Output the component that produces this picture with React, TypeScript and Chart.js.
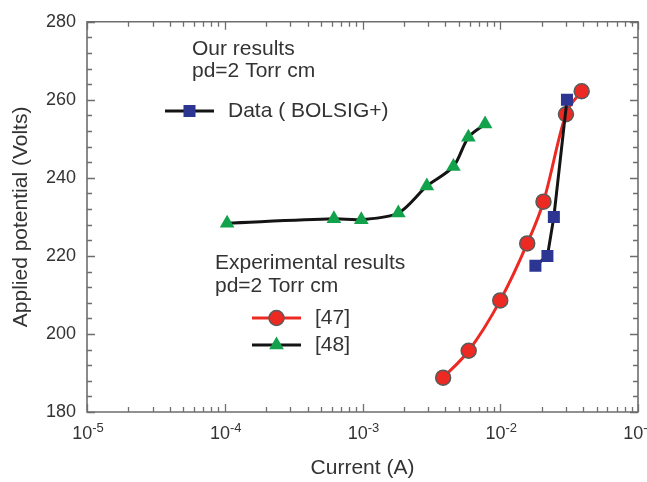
import React, { useEffect, useRef } from 'react';
import { Chart, registerables } from 'chart.js';
import { drawPoint } from 'chart.js/helpers';

Chart.register(...registerables);

// ---- data ----
const bolsigCurrent = [0.018, 0.022, 0.0245, 0.0305];
const bolsigVoltage = [217.5, 220.0, 230.0, 260.0];

const ref47Current = [0.00385, 0.0059, 0.0100, 0.0157, 0.0206, 0.0300, 0.0390];
const ref47Voltage = [188.8, 195.7, 208.6, 223.2, 233.9, 256.3, 262.2];

const ref48Current = [0.000104, 0.00062, 0.00098, 0.00182, 0.00293, 0.00457, 0.00587, 0.00776];
const ref48Voltage = [228.4, 229.5, 229.3, 231.0, 237.9, 242.9, 250.4, 253.8];

const xDecadeExponents = [-5, -4, -3, -2, -1];
const xTickBase = '10';
const xTickExponents = ['-5', '-4', '-3', '-2', '-1'];
const yMin = 180;
const yMax = 280;
const yMajorStep = 20;
const yMinorStep = 4;

const FONT = '"Liberation Sans", Arial, Helvetica, sans-serif';
const TEXT = '#333333';
const AXIS = '#6e6e6e';

const RED = '#ec2a23';
const GREEN = '#12a24c';
const BLUE = '#2d3592';
const BLACK = '#141414';

const toPoints = (xs: number[], ys: number[]) => xs.map((x, i) => ({ x, y: ys[i] }));

const framePlugin = {
  id: 'frameTicks',
  beforeDatasetsDraw(chart: any) {
    const { ctx, chartArea, scales } = chart;
    const { left, right, top, bottom } = chartArea;
    const x = scales.x;
    const y = scales.y;
    ctx.save();
    ctx.strokeStyle = AXIS;
    ctx.lineWidth = 1.6;
    ctx.beginPath();
    ctx.rect(left, top, right - left, bottom - top);
    ctx.stroke();
    ctx.lineWidth = 1.3;
    ctx.beginPath();
    for (const e of xDecadeExponents) {
      const maxS = e === xDecadeExponents[xDecadeExponents.length - 1] ? 1 : 9;
      for (let s = 1; s <= maxS; s++) {
        const px = Math.round(x.getPixelForValue(s * Math.pow(10, e))) + 0.5;
        const len = s === 1 ? 8 : 5;
        ctx.moveTo(px, bottom);
        ctx.lineTo(px, bottom - len);
        ctx.moveTo(px, top);
        ctx.lineTo(px, top + len);
      }
    }
    for (let v = yMin; v <= yMax; v += yMinorStep) {
      const py = Math.round(y.getPixelForValue(v)) + 0.5;
      const len = v % yMajorStep === 0 ? 8 : 5;
      ctx.moveTo(left, py);
      ctx.lineTo(left + len, py);
      ctx.moveTo(right, py);
      ctx.lineTo(right - len, py);
    }
    ctx.stroke();

    // x tick labels: base with raised exponent, centred on the decade ticks
    ctx.fillStyle = TEXT;
    ctx.textAlign = 'left';
    ctx.textBaseline = 'alphabetic';
    xDecadeExponents.forEach((e, i) => {
      const px = x.getPixelForValue(Math.pow(10, e));
      ctx.font = `18px ${FONT}`;
      const wb = ctx.measureText(xTickBase).width;
      ctx.font = `13px ${FONT}`;
      const we = ctx.measureText(xTickExponents[i]).width;
      const x0 = px - (wb + we) / 2 + 1;
      const base = bottom + 27;
      ctx.font = `18px ${FONT}`;
      ctx.fillText(xTickBase, x0, base);
      ctx.font = `13px ${FONT}`;
      ctx.fillText(xTickExponents[i], x0 + wb, base - 7);
    });
    ctx.restore();
  },
};

const legendPlugin = {
  id: 'annotLegend',
  afterDraw(chart: any) {
    const { ctx } = chart;
    const ds = chart.data.datasets;
    ctx.save();
    ctx.font = `21px ${FONT}`;
    ctx.fillStyle = TEXT;
    ctx.textAlign = 'left';
    ctx.textBaseline = 'middle';
    ctx.fillText('Our results', 192, 49);
    ctx.fillText('pd=2 Torr cm', 192, 71);
    ctx.fillText('Experimental results', 215, 263);
    ctx.fillText('pd=2 Torr cm', 215, 286);

    const item = (d: any, x0: number, x1: number, yc: number, label: string, tx: number) => {
      ctx.save();
      ctx.strokeStyle = d.borderColor;
      ctx.lineWidth = d.borderWidth;
      ctx.beginPath();
      ctx.moveTo(x0, yc);
      ctx.lineTo(x1, yc);
      ctx.stroke();
      ctx.fillStyle = d.pointBackgroundColor;
      ctx.strokeStyle = d.pointBorderColor;
      ctx.lineWidth = d.pointBorderWidth;
      drawPoint(ctx, { pointStyle: d.pointStyle, radius: d.pointRadius, rotation: 0, borderWidth: d.pointBorderWidth }, (x0 + x1) / 2, yc);
      ctx.restore();
      ctx.fillStyle = TEXT;
      ctx.fillText(label, tx, yc);
    };
    item(ds[0], 165, 214, 111, 'Data ( BOLSIG+)', 228);
    item(ds[1], 252, 301, 318, '[47]', 315);
    item(ds[2], 252, 301, 345, '[48]', 315);
    ctx.restore();
  },
};

export default function App() {
  const canvasRef = useRef<HTMLCanvasElement | null>(null);

  useEffect(() => {
    const canvas = canvasRef.current;
    if (!canvas) return;
    const chart = new Chart(canvas, {
      type: 'line',
      data: {
        datasets: [
          {
            label: 'Data ( BOLSIG+)',
            data: toPoints(bolsigCurrent, bolsigVoltage),
            borderColor: BLACK,
            borderWidth: 3,
            pointStyle: 'rect',
            pointRadius: 8.5,
            pointBackgroundColor: BLUE,
            pointBorderColor: BLUE,
            pointBorderWidth: 0,
            tension: 0,
            order: 0,
          },
          {
            label: '[47]',
            data: toPoints(ref47Current, ref47Voltage),
            borderColor: RED,
            borderWidth: 3,
            pointStyle: 'circle',
            pointRadius: 7.5,
            pointBackgroundColor: RED,
            pointBorderColor: '#5a5a5a',
            pointBorderWidth: 1.5,
            cubicInterpolationMode: 'monotone',
            order: 2,
          },
          {
            label: '[48]',
            data: toPoints(ref48Current, ref48Voltage),
            borderColor: BLACK,
            borderWidth: 3,
            pointStyle: 'triangle',
            pointRadius: 8.5,
            pointBackgroundColor: GREEN,
            pointBorderColor: GREEN,
            pointBorderWidth: 0,
            tension: 0.3,
            order: 1,
          },
        ],
      } as any,
      options: {
        responsive: false,
        animation: false,
        devicePixelRatio: 1,
        layout: { padding: { left: 0, top: 14, right: 62, bottom: 0 } },
        plugins: {
          legend: { display: false },
          tooltip: { enabled: false },
        },
        scales: {
          x: {
            type: 'logarithmic',
            min: 1e-5,
            max: 1e-1,
            grid: { display: false, drawTicks: false },
            border: { display: false },
            ticks: { display: false },
            title: {
              display: true,
              text: 'Current (A)',
              color: TEXT,
              font: { family: FONT, size: 21 },
              padding: { top: 0, bottom: 1 },
            },
            afterFit: (scale: any) => {
              scale.height = 70;
            },
          },
          y: {
            type: 'linear',
            min: yMin,
            max: yMax,
            grid: { display: false, drawTicks: false },
            border: { display: false },
            ticks: {
              stepSize: yMajorStep,
              padding: 11,
              color: TEXT,
              font: { family: FONT, size: 18 },
            },
            title: {
              display: true,
              text: 'Applied potential (Volts)',
              color: TEXT,
              font: { family: FONT, size: 21 },
              padding: { top: 9, bottom: 0 },
            },
            afterFit: (scale: any) => {
              scale.width = 87;
            },
          },
        },
      } as any,
      plugins: [framePlugin, legendPlugin],
    });
    return () => chart.destroy();
  }, []);

  return (
    <div
      style={{
        position: 'fixed',
        left: 0,
        top: 0,
        width: 647,
        height: 482,
        overflow: 'hidden',
        background: '#ffffff',
      }}
    >
      <canvas ref={canvasRef} width={700} height={482} style={{ display: 'block' }} />
    </div>
  );
}
